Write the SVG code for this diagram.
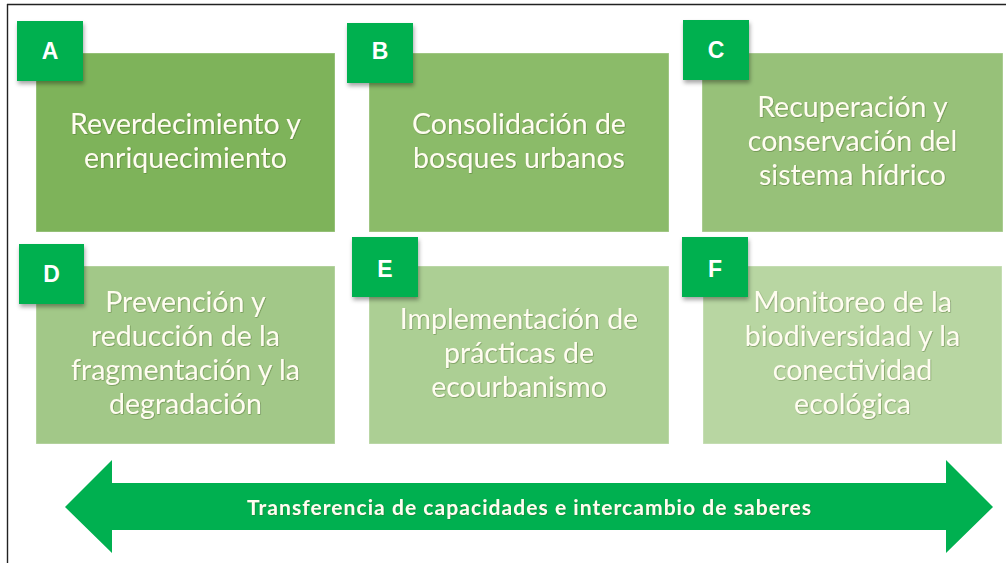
<svg xmlns="http://www.w3.org/2000/svg" width="1006" height="563" viewBox="0 0 1006 563">
  <defs>
    <filter id="sh" x="-20%" y="-20%" width="150%" height="150%">
      <feDropShadow dx="1" dy="3" stdDeviation="2" flood-color="#000" flood-opacity="0.35"/>
    </filter>
    <filter id="tsh" x="-5%" y="-20%" width="110%" height="140%">
      <feDropShadow dx="0.6" dy="0.6" stdDeviation="0.5" flood-color="#3a5a20" flood-opacity="0.6"/>
    </filter>
  </defs>
  <style>
    .box { stroke: #ffffff; stroke-opacity: 0.35; stroke-width: 1; }
    .badge { fill: #00b050; filter: url(#sh); }
    .bl { font-family: "Liberation Sans", Arial, sans-serif; font-weight: bold; font-size: 23px; fill: #ffffff; text-anchor: middle; }
    .lbl { font-family: Lato, "Open Sans", sans-serif; font-size: 28.5px; fill: #fffdf0; text-anchor: middle; filter: url(#tsh); }
    .arr { font-family: Lato, "Open Sans", sans-serif; font-weight: bold; font-size: 21px; fill: #fffdf0; text-anchor: middle; filter: url(#tsh); }
  </style>
  <rect x="0" y="0" width="1006" height="563" fill="#ffffff"/>
  <g id="frame">
    <line x1="7" y1="4.5" x2="1006" y2="4.5" stroke="#222" stroke-width="1.6"/>
    <line x1="7.5" y1="4" x2="7.5" y2="563" stroke="#222" stroke-width="1.4"/>
  </g>

  <g id="node-A">
    <rect class="box" x="36" y="53" width="299" height="179" fill="#7eb35a"/>
    <rect class="badge" x="17" y="21" width="66" height="60"/>
    <text class="bl" x="50" y="59">A</text>
    <text class="lbl" x="185.5" y="134">Reverdecimiento y</text>
    <text class="lbl" x="185.5" y="168">enriquecimiento</text>
  </g>
  <g id="node-B">
    <rect class="box" x="369" y="53" width="300" height="179" fill="#8bbb69"/>
    <rect class="badge" x="347" y="23" width="66" height="60"/>
    <text class="bl" x="380" y="59">B</text>
    <text class="lbl" x="519" y="134">Consolidación de</text>
    <text class="lbl" x="519" y="168">bosques urbanos</text>
  </g>
  <g id="node-C">
    <rect class="box" x="702" y="53" width="301" height="179" fill="#97c179"/>
    <rect class="badge" x="683" y="20" width="66" height="60"/>
    <text class="bl" x="716" y="58">C</text>
    <text class="lbl" x="852.5" y="117">Recuperación y</text>
    <text class="lbl" x="852.5" y="151">conservación del</text>
    <text class="lbl" x="852.5" y="185">sistema hídrico</text>
  </g>
  <g id="node-D">
    <rect class="box" x="36" y="266" width="299" height="178" fill="#a2c888"/>
    <rect class="badge" x="19" y="244" width="65" height="60"/>
    <text class="bl" x="51.5" y="282">D</text>
    <text class="lbl" x="185.5" y="312">Prevención y</text>
    <text class="lbl" x="185.5" y="346">reducción de la</text>
    <text class="lbl" x="185.5" y="380">fragmentación y la</text>
    <text class="lbl" x="185.5" y="414">degradación</text>
  </g>
  <g id="node-E">
    <rect class="box" x="369" y="266" width="300" height="178" fill="#accf94"/>
    <rect class="badge" x="352" y="237" width="66" height="60"/>
    <text class="bl" x="385" y="277">E</text>
    <text class="lbl" x="519" y="329">Implementación de</text>
    <text class="lbl" x="519" y="363">prácticas de</text>
    <text class="lbl" x="519" y="397">ecourbanismo</text>
  </g>
  <g id="node-F">
    <rect class="box" x="703" y="266" width="299" height="178" fill="#b8d6a2"/>
    <rect class="badge" x="682" y="237" width="66" height="60"/>
    <text class="bl" x="715" y="277">F</text>
    <text class="lbl" x="852.5" y="312">Monitoreo de la</text>
    <text class="lbl" x="852.5" y="346">biodiversidad y la</text>
    <text class="lbl" x="852.5" y="380">conectividad</text>
    <text class="lbl" x="852.5" y="414">ecológica</text>
  </g>

  <g id="connectors">
    <polygon points="65,507 112,460 112,483 946,483 946,460 993,507 946,553 946,530 112,530 112,553" fill="#00b050"/>
    <text class="arr" x="529" y="515" textLength="564" lengthAdjust="spacing">Transferencia de capacidades e intercambio de saberes</text>
  </g>
</svg>
